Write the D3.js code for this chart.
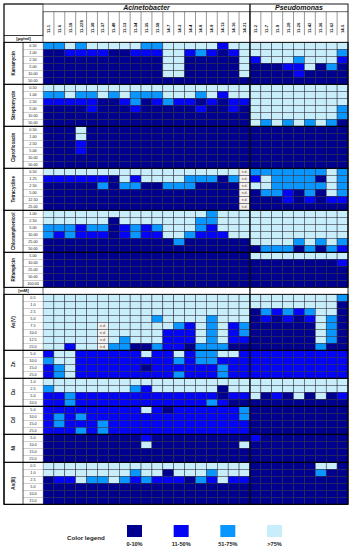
<!DOCTYPE html>
<html><head><meta charset="utf-8">
<script src="https://cdn.jsdelivr.net/npm/d3@7"></script>
<style>body{margin:0;background:#fff}svg{display:block}</style>
</head><body>
<script>
// ---------- DATA ----------
const strainsAcinetobacter = ["11-1","11-6","11-18","11-228","11-30","11-37","11-40","11-13","11-34","11-35","11-58","14-7","14-3","14-4","14-8","14-9","14-13","14-16","14-21"];
const strainsPseudomonas = ["11-2","11-7","11-9","11-20","11-26","11-42","11-36","11-62","14-5"];

// value codes per strain: 0 = 0-10%, 1 = 11-50%, 2 = 51-75%, 3 = >75%, n = n.d.
const kanamycinConc = ["0.50","1.00","2.50","5.00","10.00","50.00"];
const kanamycin = [
  "2232333332233"+"333133"+"333333333",
  "0011110011133"+"121013"+"333333332",
  "0000000000033"+"000003"+"133323331",
  "0000000000033"+"000003"+"000113020",
  "0000000000033"+"000003"+"000010000",
  "0000000000000"+"000000"+"000000000"];
const streptomycinConc = ["0.50","1.00","2.50","5.00","10.00","50.00"];
const streptomycin = [
  "3333333333333"+"333333"+"333333333",
  "2232232322233"+"323133"+"333333333",
  "1111100120121"+"101011"+"333333333",
  "0000100010000"+"010010"+"333333332",
  "0000000000000"+"000000"+"333333332",
  "0000000000000"+"000000"+"323232320"];
const ciprofloxacinConc = ["0.50","1.00","2.50","5.00","10.00","50.00"];
const ciprofloxacin = [
  "0003000000000"+"000000"+"000000000",
  "0003000000000"+"000000"+"000000000",
  "0001000000000"+"000000"+"000000000",
  "0001000000000"+"000000"+"000000000",
  "0000000000000"+"000000"+"000000000",
  "0000000000000"+"000000"+"000000000"];
const tetracyclineConc = ["0.50","1.25","2.50","5.00","12.50","25.00"];
const tetracycline = [
  "3333333333333"+"33333n"+"222222232",
  "1111110313333"+"22202n"+"132222032",
  "0000020220022"+"20000n"+"332222232",
  "0000000000000"+"00000n"+"022102032",
  "0000000000000"+"00000n"+"000101011",
  "0000000000000"+"00000n"+"000000000"];
const chloramphenicolConc = ["1.00","2.50","5.00","10.00","25.00","50.00"];
const chloramphenicol = [
  "3333333333333"+"332333"+"333333333",
  "3333330333333"+"322333"+"333333333",
  "2221220121233"+"321333"+"333333333",
  "2121110121133"+"211133"+"333333333",
  "0000000000002"+"000000"+"333323232",
  "0000000000000"+"000000"+"022202021"];
const rifampicinConc = ["5.00","10.00","25.00","50.00","100.00"];
const rifampicin = [
  "0000000000000"+"000000"+"333333333",
  "0000000000000"+"000000"+"000000001",
  "0000000000000"+"000000"+"000000000",
  "0000000000000"+"000000"+"000000000",
  "0000000000000"+"000000"+"000000000"];
const arsenateConc = ["0.5","1.0","2.5","5.0","7.5","10.0","12.5","25.0"];
const arsenate = [
  "3333333333333"+"333333"+"333333332",
  "3333333333333"+"333333"+"333333330",
  "3333333333333"+"333333"+"021212330",
  "3333333333233"+"332333"+"010101320",
  "33333n3333332"+"132312"+"000000320",
  "33333n3333311"+"132312"+"000000320",
  "33333n3233311"+"132311"+"000000320",
  "33133n2200211"+"022200"+"000000200"];
const zincConc = ["5.0","10.0","15.0","25.0"];
const zinc = [
  "1331111113113"+"122331"+"111111111",
  "2331111111112"+"122111"+"111111111",
  "1231111110111"+"111211"+"111111111",
  "1231111111112"+"111211"+"111111111"];
const copperConc = ["1.0","2.5","5.0","10.0"];
const copper = [
  "3333333333333"+"333333"+"333333333",
  "2333333321333"+"333033"+"333333333",
  "1121111111111"+"111011"+"301030301",
  "1121111111111"+"112100"+"000000000"];
const cadmiumConc = ["5.0","10.0","15.0","25.0"];
const cadmium = [
  "1111111113101"+"111112"+"000000000",
  "1212111111111"+"111112"+"000000000",
  "1211121111111"+"111111"+"000000000",
  "1112121111111"+"111111"+"000000000"];
const nickelConc = ["5.0","10.0","15.0","25.0"];
const nickel = [
  "0000000001000"+"000000"+"100000000",
  "0000000003000"+"000003"+"000000000",
  "0000000000000"+"000000"+"000000000",
  "0000000000000"+"000000"+"000000000"];
const arseniteConc = ["0.5","1.0","2.5","5.0","10.0","15.0"];
const arsenite = [
  "3333333333333"+"333333"+"000000330",
  "3333333323303"+"332333"+"000000200",
  "0113223212111"+"021311"+"000000000",
  "0000000000000"+"000000"+"000000000",
  "0000000000000"+"000000"+"000000000",
  "0000000000000"+"000000"+"000000000"];
const legendCodes = ["0","1","2","3"];
const legendLabels = ["0-10%","11-50%","51-75%",">75%"];

// ---------- STRUCTURE ----------
const sections = [
  {unit:"[µg/ml]", groups:[
    {name:"Kanamycin", conc:kanamycinConc, values:kanamycin},
    {name:"Streptomycin", conc:streptomycinConc, values:streptomycin},
    {name:"Ciprofloxacin", conc:ciprofloxacinConc, values:ciprofloxacin},
    {name:"Tetracycline", conc:tetracyclineConc, values:tetracycline},
    {name:"Chloramphenicol", conc:chloramphenicolConc, values:chloramphenicol},
    {name:"Rifampicin", conc:rifampicinConc, values:rifampicin}]},
  {unit:"[mM]", groups:[
    {name:"As(V)", conc:arsenateConc, values:arsenate},
    {name:"Zn", conc:zincConc, values:zinc},
    {name:"Cu", conc:copperConc, values:copper},
    {name:"Cd", conc:cadmiumConc, values:cadmium},
    {name:"Ni", conc:nickelConc, values:nickel},
    {name:"As(III)", conc:arseniteConc, values:arsenite}]}
];
const rows = [];
const groupList = [];
sections.forEach((s,si)=>{
  rows.push({key:"u"+si, unit:s.unit});
  s.groups.forEach((g,gi)=>{
    g.keys=[];
    g.conc.forEach((c,ci)=>{const k=`r${si}-${gi}-${ci}`; g.keys.push(k); rows.push({key:k, conc:c, vals:g.values[ci]});});
    groupList.push(g);
  });
});

// ---------- DRAW ----------
const W=355,H=550;
const X0=4, XL=23, XD=43, XR=348, YT=4, YH=11.7, YU=35.3, YB=504.3;
const strains = strainsAcinetobacter.concat(strainsPseudomonas);
const color = d3.scaleOrdinal().domain(legendCodes).range(["#000090","#0505F5","#0A96FF","#C8EEFC"]);
const x = d3.scaleBand().domain(strains).range([XD,XR]);
const y = d3.scaleBand().domain(rows.map(r=>r.key)).range([YU,YB]);
const svg = d3.select("body").append("svg").attr("width",W).attr("height",H)
  .style("font-family","'Liberation Sans', Arial, sans-serif");

// cells
const cells=[];
rows.filter(r=>r.vals).forEach(r=>strains.forEach((s,i)=>cells.push({key:r.key,strain:s,v:r.vals[i]})));
svg.append("g").selectAll("rect").data(cells).join("rect")
  .attr("x",d=>x(d.strain)).attr("y",d=>y(d.key))
  .attr("width",x.bandwidth()).attr("height",y.bandwidth())
  .attr("fill",d=>d.v==="n"?"#f3f1ee":color(d.v))
  .attr("stroke","#2b2b3a").attr("stroke-width",0.5);
svg.append("g").selectAll("text").data(cells.filter(d=>d.v==="n")).join("text")
  .attr("x",d=>x(d.strain)+x.bandwidth()/2).attr("y",d=>y(d.key)+y.bandwidth()/2+1.2)
  .attr("text-anchor","middle").attr("font-size",3.4).attr("fill","#5a3a2a").text("n.d.");

// concentration label column
const dataRows = rows.filter(r=>r.vals);
svg.append("g").selectAll("rect").data(dataRows).join("rect")
  .attr("x",XL).attr("y",d=>y(d.key)).attr("width",XD-XL).attr("height",y.bandwidth())
  .attr("fill","#fff").attr("stroke","#9a9a9a").attr("stroke-width",0.4);
svg.append("g").selectAll("text").data(dataRows).join("text")
  .attr("x",(XL+XD)/2).attr("y",d=>y(d.key)+y.bandwidth()/2+1.3)
  .attr("text-anchor","middle").attr("font-size",3.8).attr("fill","#222").text(d=>d.conc);

// unit rows
const unitRows = rows.filter(r=>r.unit);
svg.append("g").selectAll("rect").data(unitRows).join("rect")
  .attr("x",X0).attr("y",d=>y(d.key)).attr("width",XD-X0).attr("height",y.bandwidth())
  .attr("fill","#fff").attr("stroke","#000").attr("stroke-width",0.6);
svg.append("g").selectAll("text").data(unitRows).join("text")
  .attr("x",(X0+XD)/2).attr("y",d=>y(d.key)+y.bandwidth()/2+1.5)
  .attr("text-anchor","middle").attr("font-size",4.4).attr("font-weight","bold").attr("fill","#111").text(d=>d.unit);

// group boxes and names
const gg = svg.append("g");
groupList.forEach(g=>{
  const y0=y(g.keys[0]), y1=y(g.keys[g.keys.length-1])+y.bandwidth();
  gg.append("rect").attr("x",X0).attr("y",y0).attr("width",XL-X0).attr("height",y1-y0)
    .attr("fill","#fff").attr("stroke","#000").attr("stroke-width",0.6);
  gg.append("rect").attr("x",X0).attr("y",y0).attr("width",XR-X0).attr("height",y1-y0)
    .attr("fill","none").attr("stroke","#000").attr("stroke-width",0.9);
  gg.append("text").attr("transform",`translate(${(X0+XL)/2+1.6},${(y0+y1)/2}) rotate(-90)`)
    .attr("text-anchor","middle").attr("font-size",4.6).attr("font-weight","bold").attr("fill","#111").text(g.name);
});

// header
const hd = svg.append("g");
hd.append("rect").attr("x",X0).attr("y",YT).attr("width",XD-X0).attr("height",YU-YT)
  .attr("fill","#fff").attr("stroke","#000").attr("stroke-width",0.6);
hd.append("line").attr("x1",XD).attr("x2",XR).attr("y1",YH).attr("y2",YH).attr("stroke","#000").attr("stroke-width",0.6);
hd.selectAll("line.v").data(strains).join("line").attr("class","v")
  .attr("x1",d=>x(d)).attr("x2",d=>x(d)).attr("y1",YH).attr("y2",YU)
  .attr("stroke","#333").attr("stroke-width",0.5);
hd.selectAll("text.s").data(strains).join("text").attr("class","s")
  .attr("transform",d=>`translate(${x(d)+x.bandwidth()/2+1.5},${YU-2.2}) rotate(-90)`)
  .attr("font-size",4.2).attr("font-weight","bold").attr("fill","#111").text(d=>d);
const xSplit = x(strainsPseudomonas[0]);
hd.append("text").attr("x",(XD+xSplit)/2).attr("y",YH-1.8).attr("text-anchor","middle")
  .attr("font-size",7).attr("font-weight","bold").attr("font-style","italic").attr("fill","#111").text("Acinetobacter");
hd.append("text").attr("x",(xSplit+XR)/2).attr("y",YH-1.8).attr("text-anchor","middle")
  .attr("font-size",7).attr("font-weight","bold").attr("font-style","italic").attr("fill","#111").text("Pseudomonas");

// frame and split
svg.append("rect").attr("x",X0).attr("y",YT).attr("width",XR-X0).attr("height",YB-YT)
  .attr("fill","none").attr("stroke","#000").attr("stroke-width",0.9);
svg.append("line").attr("x1",xSplit).attr("x2",xSplit).attr("y1",YT).attr("y2",YB)
  .attr("stroke","#000").attr("stroke-width",1.3);

// legend
const lg = svg.append("g");
lg.append("text").attr("x",67).attr("y",539.5).attr("font-size",6.2).attr("font-weight","bold").attr("fill","#222").text("Color legend");
const lx = d3.scalePoint().domain(legendCodes).range([134.5,274.5]);
lg.selectAll("rect").data(legendCodes).join("rect")
  .attr("x",d=>lx(d)-7.5).attr("y",525).attr("width",15).attr("height",12).attr("fill",d=>color(d));
lg.selectAll("text.l").data(legendCodes).join("text").attr("class","l")
  .attr("x",d=>lx(d)).attr("y",546).attr("text-anchor","middle").attr("font-size",5.6).attr("font-weight","bold").attr("fill","#222")
  .text((d,i)=>legendLabels[i]);
</script>
</body></html>
